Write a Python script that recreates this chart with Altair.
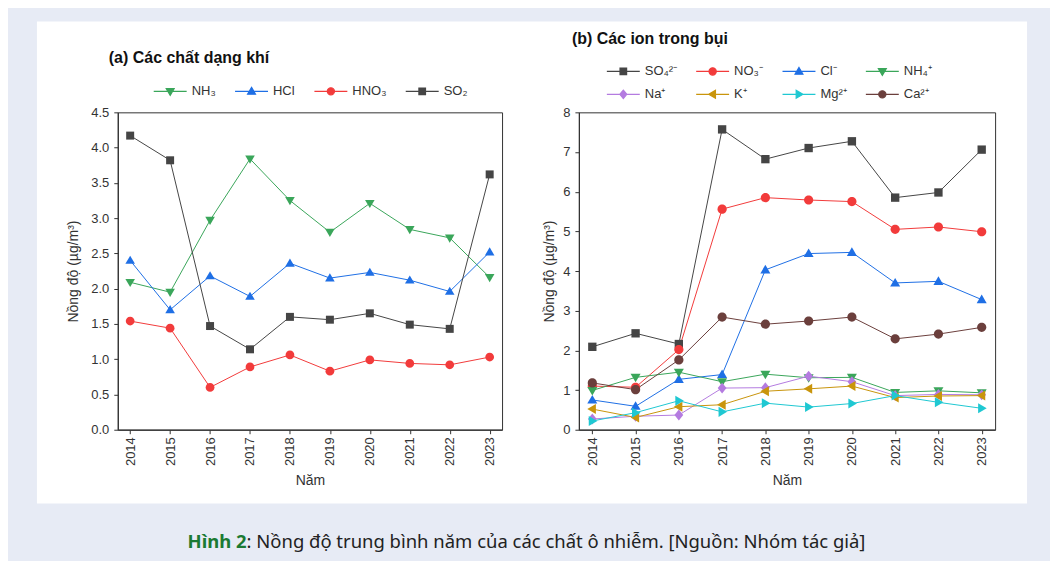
import altair as alt
import pandas as pd

# ---------------- data ----------------
years = [str(y) for y in range(2014, 2024)]

gas_names = ["NH₃", "HCl", "HNO₃", "SO₂"]
gas_nh3 = [2.09, 1.95, 2.97, 3.84, 3.25, 2.80, 3.21, 2.84, 2.72, 2.16]
gas_hcl = [2.40, 1.70, 2.18, 1.89, 2.36, 2.15, 2.23, 2.12, 1.96, 2.52]
gas_hno3 = [1.54, 1.44, 0.60, 0.89, 1.06, 0.83, 0.99, 0.94, 0.92, 1.03]
gas_so2 = [4.17, 3.82, 1.47, 1.14, 1.60, 1.56, 1.65, 1.49, 1.43, 3.62]

ion_names = ["SO₄²⁻", "NO₃⁻", "Cl⁻", "NH₄⁺", "Na⁺", "K⁺", "Mg²⁺", "Ca²⁺"]
ion_so4 = [2.09, 2.43, 2.16, 7.57, 6.82, 7.10, 7.27, 5.85, 5.98, 7.06]
ion_no3 = [1.10, 1.07, 2.02, 5.56, 5.85, 5.79, 5.75, 5.05, 5.11, 4.99]
ion_cl = [0.75, 0.59, 1.27, 1.39, 4.03, 4.44, 4.47, 3.70, 3.74, 3.28]
ion_nh4 = [0.99, 1.32, 1.45, 1.21, 1.40, 1.31, 1.32, 0.94, 0.98, 0.93]
ion_na = [0.27, 0.34, 0.37, 1.05, 1.06, 1.35, 1.21, 0.86, 0.89, 0.88]
ion_k = [0.52, 0.31, 0.58, 0.63, 0.97, 1.03, 1.10, 0.81, 0.85, 0.86]
ion_mg = [0.22, 0.43, 0.73, 0.45, 0.67, 0.57, 0.66, 0.86, 0.69, 0.54]
ion_ca = [1.18, 1.01, 1.76, 2.84, 2.66, 2.74, 2.84, 2.29, 2.41, 2.58]

gas_y_ticks = [0, 0.5, 1.0, 1.5, 2.0, 2.5, 3.0, 3.5, 4.0, 4.5]
ion_y_ticks = [0, 1, 2, 3, 4, 5, 6, 7, 8]

caption_bold = "Hình 2"
caption_rest = ": Nồng độ trung bình năm của các chất ô nhiễm. [Nguồn: Nhóm tác giả]"

# ---------------- style ----------------
FONT = "Liberation Sans"
CAP_FONT = "Noto Sans"
BLUE = "#e7ebf5"
TXT = "#333333"
GREEN = "#3aa65a"
BLUEL = "#1f6fe5"
RED = "#f23b3b"
GREY = "#454545"
PURPLE = "#b47be0"
GOLD = "#c9950c"
CYAN = "#1fc8d2"
BROWN = "#6b3f3c"

gas_colors = [GREEN, BLUEL, RED, GREY]
gas_shapes = ["tri_down", "tri_up", "circle", "square"]
ion_colors = [GREY, RED, BLUEL, GREEN, PURPLE, GOLD, CYAN, BROWN]
ion_shapes = ["square", "circle", "tri_up", "tri_down", "diamond", "tri_left", "tri_right", "circle"]

POLYS = {
    "square": [(-1, -1), (1, -1), (1, 1), (-1, 1)],
    "tri_up": [(0, -1.2), (1.2, 0.85), (-1.2, 0.85)],
    "tri_down": [(0, 1.2), (1.2, -0.85), (-1.2, -0.85)],
    "diamond": [(0, -1.3), (1.05, 0), (0, 1.3), (-1.05, 0)],
    "tri_left": [(-1.2, 0), (0.85, -1.2), (0.85, 1.2)],
    "tri_right": [(1.2, 0), (-0.85, -1.2), (-0.85, 1.2)],
}


def marker(name, k):
    if name == "circle":
        r = 1.1 * k
        return f"M{r:.3f},0A{r:.3f},{r:.3f} 0 1,1 {-r:.3f},0A{r:.3f},{r:.3f} 0 1,1 {r:.3f},0Z"
    pts = POLYS[name]
    return "M" + "L".join(f"{x * k:.3f},{y * k:.3f}" for x, y in pts) + "Z"


def legend_symbol(name):
    return "M-1.65,0H1.65" + marker(name, 0.33)


def long_df(names, series):
    rows = []
    for n, vals in zip(names, series):
        for y, v in zip(years, vals):
            rows.append({"year": y, "series": n, "value": v})
    return pd.DataFrame(rows)


def panel(df, names, colors, shapes, title, width, height, ydomain, yticks, yfmt,
          lx, ly, msize, tdx, toffset, ytitle_pad):
    base = alt.Chart(df)
    xenc = alt.X("year:O", sort=years,
                 scale=alt.Scale(type="point", padding=0.31),
                 axis=alt.Axis(title="Năm", labelAngle=-90, tickSize=4, labelPadding=3,
                               titlePadding=8, grid=False))
    yenc = alt.Y("value:Q",
                 scale=alt.Scale(domain=ydomain, nice=False, zero=True),
                 axis=alt.Axis(title="Nồng độ (µg/m³)", values=yticks, format=yfmt,
                               tickSize=4, labelPadding=5, titlePadding=ytitle_pad, grid=False))
    layers = []
    for n, c in zip(names, colors):
        layers.append(base.transform_filter(alt.datum.series == n)
                      .mark_line(color=c, strokeWidth=1)
                      .encode(x=xenc, y=yenc))
    for n, c, s in zip(names, colors, shapes):
        layers.append(base.transform_filter(alt.datum.series == n)
                      .mark_point(filled=True, opacity=1, shape=marker(s, 1), size=msize,
                                  color=c, strokeWidth=0)
                      .encode(x=xenc, y=yenc))
    leg = alt.Legend(orient="none", legendX=lx, legendY=ly, direction="horizontal",
                     columns=4, title=None, symbolSize=400, symbolStrokeWidth=1.2,
                     labelOffset=10.5, columnPadding=16.5, rowPadding=5, labelFont=FONT,
                     labelFontSize=13, labelColor=TXT, symbolOpacity=1, padding=0)
    leg_paths = [legend_symbol(s) for s in shapes]
    legend_layer = (base.transform_filter("false")
                    .mark_point(filled=True, opacity=1)
                    .encode(fill=alt.Fill("series:N", scale=alt.Scale(domain=names, range=colors), legend=leg),
                            stroke=alt.Stroke("series:N", scale=alt.Scale(domain=names, range=colors), legend=leg),
                            shape=alt.Shape("series:N", scale=alt.Scale(domain=names, range=leg_paths), legend=leg)))
    layers.append(legend_layer)
    return alt.layer(*layers).properties(
        width=width, height=height,
        title=alt.TitleParams(text=title, anchor="start", frame="group", dx=tdx, offset=toffset,
                              font=FONT, fontSize=16, fontWeight="bold", color="#111111"))


gas_df = long_df(gas_names, [gas_nh3, gas_hcl, gas_hno3, gas_so2])
ion_df = long_df(ion_names, [ion_so4, ion_no3, ion_cl, ion_nh4, ion_na, ion_k, ion_mg, ion_ca])

left = panel(gas_df, gas_names, gas_colors, gas_shapes, "(a) Các chất dạng khí", 385, 318,
             [0, 4.5], gas_y_ticks, ".1f", 41.5, -32, 64, -9, 14, 10)
right = panel(ion_df, ion_names, ion_colors, ion_shapes, "(b) Các ion trong bụi", 417, 318,
              [0, 8], ion_y_ticks, "d", 33.5, -52, 70, -7, 13, 6)

# background card + caption (decoration, pixel positions relative to this tiny view)
one = pd.DataFrame({"k": [0]})
bg_rect = alt.Chart(one).mark_rect(color=BLUE).encode(
    x=alt.value(-31), x2=alt.value(1011), y=alt.value(-103), y2=alt.value(448))
card = alt.Chart(one).mark_rect(color="white").encode(
    x=alt.value(-3), x2=alt.value(989), y=alt.value(-91), y2=alt.value(392))
cap1 = alt.Chart(one).mark_text(align="right", baseline="middle", font=CAP_FONT, fontSize=18.5,
                                fontWeight="bold", color="#1b7a33").encode(
    x=alt.value(207), y=alt.value(431), text=alt.value(caption_bold))
cap2 = alt.Chart(one).mark_text(align="left", baseline="middle", font=CAP_FONT, fontSize=18.5,
                                color="#222222").encode(
    x=alt.value(207), y=alt.value(431), text=alt.value(caption_rest))
backdrop = alt.layer(bg_rect, card, cap1, cap2).properties(
    width=1, height=318, view=alt.ViewBackground(stroke="transparent"))

chart = (alt.hconcat(backdrop, left, right, spacing=77, bounds="flush")
         .resolve_scale(color="independent", fill="independent", stroke="independent",
                        shape="independent")
         .resolve_legend(color="independent", fill="independent", stroke="independent",
                         shape="independent")
         .properties(padding=0, background=BLUE)
         .configure(font=FONT)
         .configure_view(stroke="#333333", strokeWidth=1)
         .configure_axis(labelFont=FONT, titleFont=FONT, labelFontSize=13, titleFontSize=14,
                         labelColor=TXT, titleColor=TXT, domainColor="#333333", tickColor="#333333",
                         titleFontWeight="normal", domainWidth=1.2))

chart.save("out.html", embed_options={"renderer": "svg", "actions": False})
